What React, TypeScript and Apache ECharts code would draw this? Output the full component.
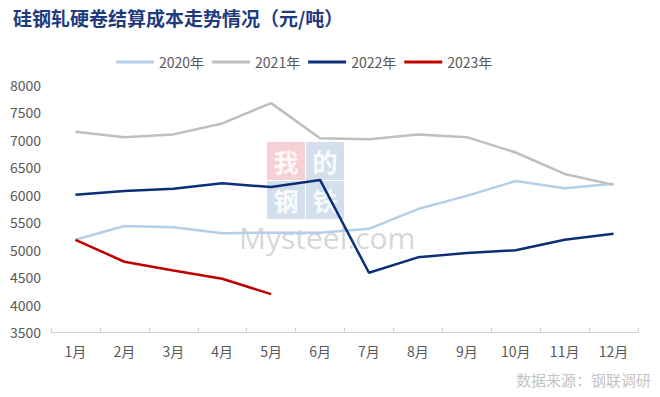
import React, { useEffect, useRef } from "react";
import * as echarts from "echarts";

const months = ["1月", "2月", "3月", "4月", "5月", "6月", "7月", "8月", "9月", "10月", "11月", "12月"];
const s2020 = [5180, 5430, 5410, 5300, 5310, 5310, 5380, 5740, 5980, 6250, 6120, 6200];
const s2021 = [7150, 7050, 7100, 7300, 7670, 7030, 7010, 7100, 7050, 6770, 6380, 6180];
const s2022 = [6000, 6070, 6110, 6210, 6140, 6270, 4580, 4860, 4940, 4990, 5180, 5290];
const s2023 = [5180, 4780, 4620, 4470, 4190];
const seriesNames = ["2020年", "2021年", "2022年", "2023年"];
const seriesColors = ["#B4CFEA", "#BFBFBF", "#0B2F78", "#C00000"];

export default function App() {
  const ref = useRef<HTMLDivElement>(null);
  useEffect(() => {
    if (!ref.current) return;
    const chart = echarts.init(ref.current, undefined, { renderer: "svg" });
    const data = [s2020, s2021, s2022, s2023];
    const font = "'Microsoft YaHei', 'Noto Sans CJK SC', sans-serif";
    const wmChar = "bold 25px 'Noto Sans CJK SC'";
    chart.setOption({
      animation: false,
      backgroundColor: "#ffffff",
      title: {
        text: "硅钢轧硬卷结算成本走势情况（元/吨）",
        left: 8,
        top: 3,
        textStyle: {
          fontSize: 19,
          fontWeight: "bold",
          color: "#1F3B7E",
          fontFamily: "'Noto Sans CJK SC', sans-serif",
        },
      },
      legend: {
        top: 50,
        left: 111,
        itemWidth: 38,
        itemHeight: 3,
        itemGap: 8,
        icon: "rect",
        data: seriesNames,
        textStyle: { fontSize: 14, color: "#595959", fontFamily: font },
      },
      grid: { left: 51, right: 22, top: 85, bottom: 65, containLabel: false },
      xAxis: {
        type: "category",
        data: months,
        boundaryGap: true,
        axisLine: { lineStyle: { color: "#D0D0D0", width: 1 } },
        axisTick: { show: true, inside: true, length: 4, lineStyle: { color: "#D0D0D0" } },
        axisLabel: { fontSize: 14, color: "#595959", margin: 12, fontFamily: font },
      },
      yAxis: {
        type: "value",
        min: 3500,
        max: 8000,
        interval: 500,
        axisLine: { show: false },
        axisTick: { show: false },
        splitLine: { show: false },
        axisLabel: {
          fontSize: 14,
          color: "#595959",
          margin: 10,
          fontFamily: font,
          formatter: (v: number) => String(v),
        },
      },
      graphic: [
        { type: "rect", z: 0, shape: { x: 267, y: 142, width: 38, height: 38 }, style: { fill: "rgba(232,150,160,0.45)" } },
        { type: "rect", z: 0, shape: { x: 306, y: 142, width: 38, height: 38 }, style: { fill: "rgba(160,185,215,0.45)" } },
        { type: "rect", z: 0, shape: { x: 267, y: 181, width: 38, height: 38 }, style: { fill: "rgba(160,185,215,0.45)" } },
        { type: "rect", z: 0, shape: { x: 306, y: 181, width: 38, height: 38 }, style: { fill: "rgba(160,185,215,0.45)" } },
        { type: "text", z: 0, x: 286, y: 161, style: { text: "我", fill: "rgba(255,255,255,0.85)", font: wmChar, align: "center", verticalAlign: "middle" } },
        { type: "text", z: 0, x: 325, y: 161, style: { text: "的", fill: "rgba(255,255,255,0.85)", font: wmChar, align: "center", verticalAlign: "middle" } },
        { type: "text", z: 0, x: 286, y: 200, style: { text: "钢", fill: "rgba(255,255,255,0.85)", font: wmChar, align: "center", verticalAlign: "middle" } },
        { type: "text", z: 0, x: 325, y: 200, style: { text: "铁", fill: "rgba(255,255,255,0.85)", font: wmChar, align: "center", verticalAlign: "middle" } },
        { type: "text", z: 0, x: 239, y: 237, style: { text: "Mysteel.com", fill: "rgba(180,180,180,0.55)", font: "30px 'Open Sans', sans-serif", align: "left", verticalAlign: "middle" } },
        { type: "text", x: 651, y: 379, style: { text: "数据来源：钢联调研", fill: "#C4C4C4", font: "15px 'Noto Sans CJK SC'", align: "right", verticalAlign: "middle" } },
      ],
      series: data.map((d, i) => ({
        name: seriesNames[i],
        type: "line",
        data: d,
        symbol: "none",
        smooth: false,
        z: 3,
        lineStyle: { color: seriesColors[i], width: 2.5 },
        itemStyle: { color: seriesColors[i] },
      })),
    });
    return () => chart.dispose();
  }, []);
  return <div ref={ref} style={{ width: 660, height: 397, position: "absolute", left: 0, top: 0 }} />;
}
